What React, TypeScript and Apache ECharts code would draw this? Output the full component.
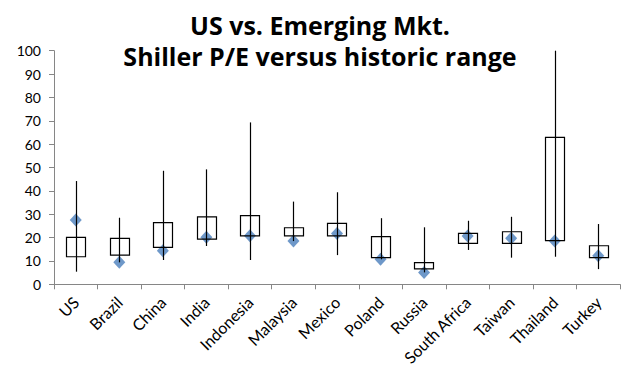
import React, { useEffect, useRef } from "react";
import * as echarts from "echarts";

const categories = ["US", "Brazil", "China", "India", "Indonesia", "Malaysia", "Mexico", "Poland", "Russia", "South Africa", "Taiwan", "Thailand", "Turkey"];
const histMin = [5.4, 9.4, 10.4, 16.4, 10.4, 18.5, 12.5, 10.7, 5.1, 14.7, 11.4, 11.8, 6.5];
const histMax = [44.2, 28.5, 48.6, 49.2, 69.3, 35.4, 39.4, 28.3, 24.4, 27.2, 28.9, 100, 25.8];
const boxLow = [11.8, 12.5, 15.8, 19.3, 20.7, 20.7, 20.7, 11.4, 6.6, 17.5, 17.5, 18.7, 11.4];
const boxHigh = [20.1, 19.7, 26.4, 28.9, 29.4, 24.2, 26.1, 20.4, 9.3, 21.8, 22.5, 62.9, 16.5];
const current = [27.5, 9.4, 14.4, 20.1, 20.8, 18.5, 21.8, 10.7, 5.1, 20.7, 19.7, 18.5, 12.2];
const yTicks = { min: 0, max: 100, interval: 10 };

export default function App() {
  const ref = useRef<HTMLDivElement>(null);
  useEffect(() => {
    if (!ref.current) return;
    const chart = echarts.init(ref.current, null, { renderer: "svg" });
    const font = "Lato, 'Open Sans', sans-serif";
    const rangeData = categories.map((_, i) => [i, histMin[i], histMax[i], boxLow[i], boxHigh[i]]);
    chart.setOption({
      animation: false,
      backgroundColor: "#fff",
      title: {
        text: "US vs. Emerging Mkt.\nShiller P/E versus historic range",
        left: "center",
        top: 4,
        textStyle: { fontFamily: "'Open Sans', sans-serif", fontWeight: "bold", fontSize: 25, lineHeight: 31, color: "#000" },
      },
      grid: { left: 54, right: 20, top: 50.7, bottom: 100.7 },
      xAxis: {
        type: "category",
        data: categories,
        boundaryGap: true,
        axisLine: { lineStyle: { color: "#868686", width: 1 } },
        axisTick: { show: true, length: 5, alignWithLabel: false, lineStyle: { color: "#868686" } },
        axisLabel: { rotate: 45, interval: 0, fontFamily: font, fontSize: 16, color: "#000", margin: 15 },
        splitLine: { show: false },
      },
      yAxis: {
        type: "value",
        min: yTicks.min,
        max: yTicks.max,
        interval: yTicks.interval,
        axisLine: { show: true, lineStyle: { color: "#868686", width: 1 } },
        axisTick: { show: true, length: 5, lineStyle: { color: "#868686" } },
        axisLabel: { fontFamily: font, fontSize: 14, color: "#000", margin: 13 },
        splitLine: { show: false },
      },
      series: [
        {
          type: "scatter",
          data: current,
          symbol: "diamond",
          symbolSize: [12, 13],
          itemStyle: { color: "#4A7EBB" },
          z: 2,
        },
        {
          type: "custom",
          data: rangeData,
          encode: { x: 0, y: [1, 2, 3, 4] },
          renderItem: (params: any, api: any) => {
            const x = api.value(0);
            const pMin = api.coord([x, api.value(1)]);
            const pMax = api.coord([x, api.value(2)]);
            const pLow = api.coord([x, api.value(3)]);
            const pHigh = api.coord([x, api.value(4)]);
            const w = api.size([1, 0])[0] * 0.44;
            return {
              type: "group",
              children: [
                {
                  type: "rect",
                  shape: { x: Math.round(pHigh[0] - w / 2) + 0.5, y: pHigh[1], width: Math.round(w), height: pLow[1] - pHigh[1] },
                  style: { fill: "none", stroke: "#000", lineWidth: 1.2 },
                },
                {
                  type: "line",
                  shape: { x1: Math.round(pMin[0]) + 0.5, y1: pMin[1], x2: Math.round(pMax[0]) + 0.5, y2: pMax[1] },
                  style: { stroke: "#000", lineWidth: 1.2 },
                },
              ],
            };
          },
          z: 3,
        },
      ],
    });
    return () => chart.dispose();
  }, []);
  return (
    <div
      style={{
        position: "fixed",
        left: 0,
        top: 0,
        width: 640,
        height: 385,
        boxSizing: "border-box",
        border: "2px solid #8a8a8a",
        background: "#fff",
      }}
    >
      <div ref={ref} style={{ position: "absolute", left: -2, top: -2, width: 640, height: 385 }} />
    </div>
  );
}
